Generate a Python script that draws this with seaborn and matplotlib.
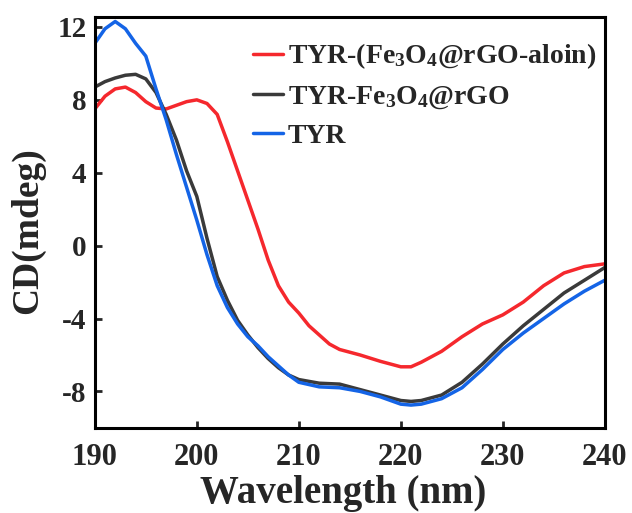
import pandas as pd
import matplotlib
matplotlib.use("Agg")
import matplotlib.pyplot as plt
import seaborn as sns

# dados (CD em mdeg)
wl_tyr = [190, 191, 192, 193, 194, 195, 196, 197, 198, 199, 200, 201, 202, 203, 204,
          205, 206, 207, 208, 209, 210, 212, 214, 216, 218, 220, 221, 222, 224, 226,
          228, 230, 232, 234, 236, 238, 240]
cd_tyr = [11.1, 11.9, 12.3, 11.9, 11.1, 10.4, 8.6, 6.9, 5.0, 3.2, 1.4, -0.5, -2.2, -3.4, -4.3,
          -5.0, -5.5, -6.1, -6.6, -7.1, -7.5, -7.75, -7.8, -8.0, -8.3, -8.7, -8.75, -8.7, -8.4, -7.8,
          -6.8, -5.7, -4.8, -4.0, -3.2, -2.5, -1.9]

wl_rgo = [190, 191, 192, 193, 194, 195, 196, 197, 198, 199, 200, 201, 202, 203, 204,
          205, 206, 207, 208, 209, 210, 212, 214, 216, 218, 220, 221, 222, 224, 226,
          228, 230, 232, 234, 236, 238, 240]
cd_rgo = [8.7, 9.0, 9.2, 9.35, 9.4, 9.15, 8.4, 7.2, 5.8, 4.1, 2.7, 0.4, -1.7, -3.0, -4.1,
          -4.9, -5.6, -6.2, -6.7, -7.1, -7.35, -7.55, -7.6, -7.9, -8.2, -8.5, -8.55, -8.5, -8.2, -7.5,
          -6.5, -5.4, -4.4, -3.5, -2.6, -1.9, -1.2]

wl_aloin = [190, 191, 192, 193, 194, 195, 196, 197, 198, 199, 200, 201, 202, 203, 204,
            205, 206, 207, 208, 209, 210, 211, 212, 213, 214, 216, 218, 220, 221, 222,
            224, 226, 228, 230, 232, 234, 236, 238, 240]
cd_aloin = [7.5, 8.2, 8.6, 8.7, 8.4, 7.9, 7.55, 7.5, 7.7, 7.9, 8.0, 7.8, 7.2, 5.7, 4.1,
            2.5, 0.9, -0.8, -2.2, -3.1, -3.7, -4.4, -4.9, -5.4, -5.7, -6.0, -6.35, -6.65, -6.65, -6.4,
            -5.8, -5.0, -4.3, -3.8, -3.1, -2.2, -1.5, -1.15, -1.0]

series = [
    ("TYR-(Fe$_3$O$_4$@rGO-aloin)", wl_aloin, cd_aloin, "#f5282d"),
    ("TYR-Fe$_3$O$_4$@rGO", wl_rgo, cd_rgo, "#3a3a3a"),
    ("TYR", wl_tyr, cd_tyr, "#1464e6"),
]

sns.set_theme(style="ticks")
plt.rcParams["font.family"] = ["Liberation Serif", "DejaVu Serif"]
plt.rcParams["font.weight"] = "bold"
plt.rcParams["axes.unicode_minus"] = False
plt.rcParams["mathtext.fontset"] = "custom"
plt.rcParams["mathtext.rm"] = "Liberation Serif:bold"
plt.rcParams["mathtext.it"] = "Liberation Serif:bold"
plt.rcParams["mathtext.bf"] = "Liberation Serif:bold"
plt.rcParams["mathtext.default"] = "rm"

fig = plt.figure(figsize=(6.32, 5.13), dpi=100)
ax = fig.add_axes([0.150, 0.166, 0.807, 0.801])

for nome, x, y, cor in series:
    sns.lineplot(x=x, y=y, ax=ax, color=cor, linewidth=2.5, label=nome)

ax.set_xlim(190, 240)
ax.set_ylim(-10, 12.55)
ax.set_xticks([190, 200, 210, 220, 230, 240])
ax.set_yticks([-8, -4, 0, 4, 8, 12])
ax.tick_params(direction="in", width=2, length=5)
ax.tick_params(axis="x", labelsize=22, pad=11)
ax.tick_params(axis="y", labelsize=21, pad=6)
for lab in ax.get_xticklabels() + ax.get_yticklabels():
    lab.set_fontweight("bold")
for s in ax.spines.values():
    s.set_linewidth(2.2)
    s.set_color("black")

ax.set_xlabel("Wavelength (nm)", fontsize=28, fontweight="bold")
ax.set_ylabel("CD(mdeg)", fontsize=27, fontweight="bold")
ax.xaxis.set_label_coords(0.487, -0.115)
ax.yaxis.set_label_coords(-0.098, 0.479)

ax.legend(loc="upper right", bbox_to_anchor=(1.0, 0.96), frameon=False,
          handlelength=1.08, handletextpad=0.2, labelspacing=0.45,
          borderpad=0.1, borderaxespad=0.2,
          prop={"family": "Liberation Serif", "weight": "bold", "size": 20})

plt.savefig("out.png", dpi=100)
